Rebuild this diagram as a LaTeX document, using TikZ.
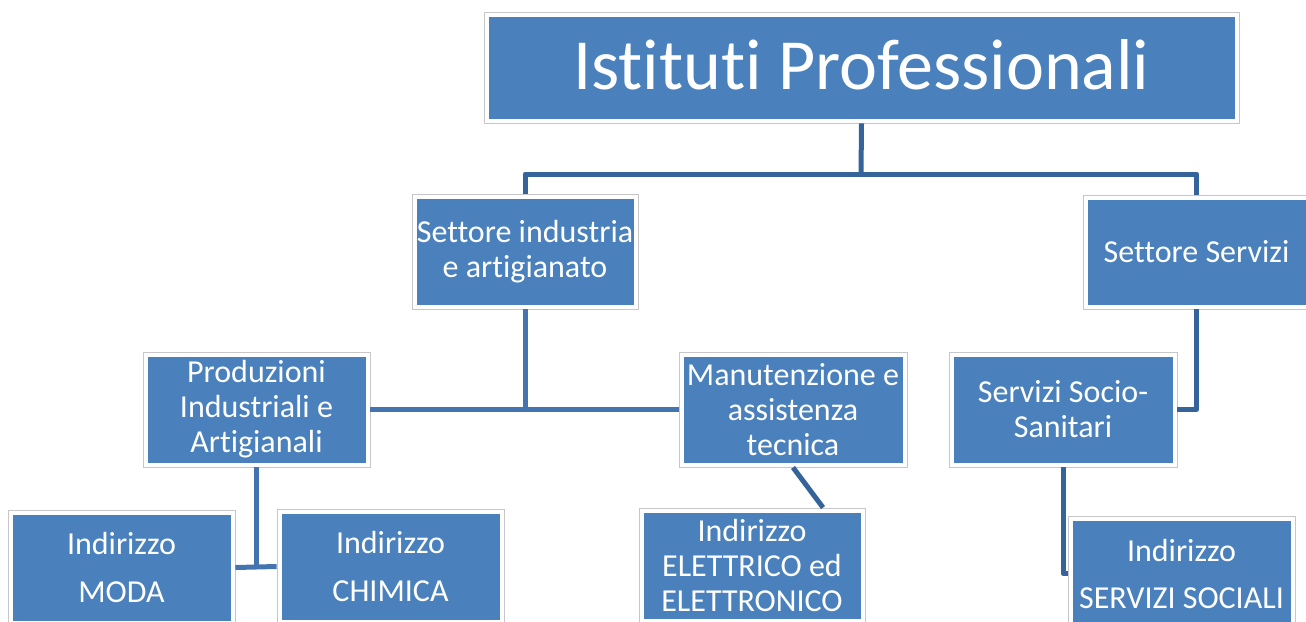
\documentclass[tikz,border=0pt]{standalone}
\usepackage{fontspec}
\setmainfont{Carlito}[Ligatures={NoCommon}]
\definecolor{boxblue}{HTML}{4A81BD}
\definecolor{lineA}{HTML}{34649A}
\definecolor{lineB}{HTML}{4474B0}
\begin{document}
\begin{tikzpicture}[x=1pt,y=-1pt,
  orgbox/.style={rectangle, fill=white, draw=black!22, line width=0.9pt,
    inner sep=0pt, align=center, text=white,
    font=\fontsize{32}{35}\selectfont,
    path picture={\fill[boxblue]
      ([shift={(4.5pt,4.5pt)}]path picture bounding box.south west) rectangle
      ([shift={(-4.5pt,-4.5pt)}]path picture bounding box.north east);}},
  sz/.style 2 args={minimum width=#1pt, minimum height=#2pt},
  conA/.style={draw=lineA, line width=5pt},
  conB/.style={draw=lineB, line width=5pt}]
\useasboundingbox (0,0) rectangle (1306,621);

\coordinate (j1) at (861,174);

% nodes
\node[orgbox, sz={755}{111}, font=\fontsize{72}{75}\selectfont] (top) at (861.5,67.5) {\raisebox{5pt}{Istituti Professionali}};
\node[orgbox, sz={226}{115}] (ind) at (525,251.5) {Settore industria\\e artigianato};
\node[orgbox, sz={227}{114}] (serv) at (1196.5,252) {Settore Servizi};
\node[orgbox, sz={227}{115}] (prod) at (256.5,409.5) {Produzioni\\Industriali e\\Artigianali};
\node[orgbox, sz={228}{115}] (man) at (793,409.5) {Manutenzione e\\assistenza\\tecnica};
\node[orgbox, sz={228}{115}] (socio) at (1063,409.5) {Servizi Socio-\\Sanitari};
\node[orgbox, sz={227}{115}] (moda) at (121.5,567.5) {Indirizzo\\[13pt]MODA};
\node[orgbox, sz={227}{115}] (chim) at (390.5,566.5) {Indirizzo\\[13pt]CHIMICA};
\node[orgbox, sz={226}{115}] (elet) at (752,565.5) {Indirizzo\\ELETTRICO ed\\ELETTRONICO};
\node[orgbox, sz={227}{115}] (soc) at (1181.5,573.5) {Indirizzo\\[12pt]SERVIZI SOCIALI};

% connectors
\draw[conA] (top.south) -- (j1);
\draw[conA, line join=round] (ind.north) |- (j1) -| (serv.north);
\draw[conB] (ind.south) -- (ind.south |- prod.east);
\draw[conB] (prod.east) -- (man.west);
\draw[conA, line join=round] (serv.south) |- (socio.east);
\draw[conB] (prod.south) -- (prod.south |- moda.east);
\draw[conB] (moda.east) -- (chim.west);
\draw[conA] (man.south) -- ([xshift=71pt]elet.north);
\draw[conA, line join=round] (socio.south) |- (soc.west);
\end{tikzpicture}
\end{document}
